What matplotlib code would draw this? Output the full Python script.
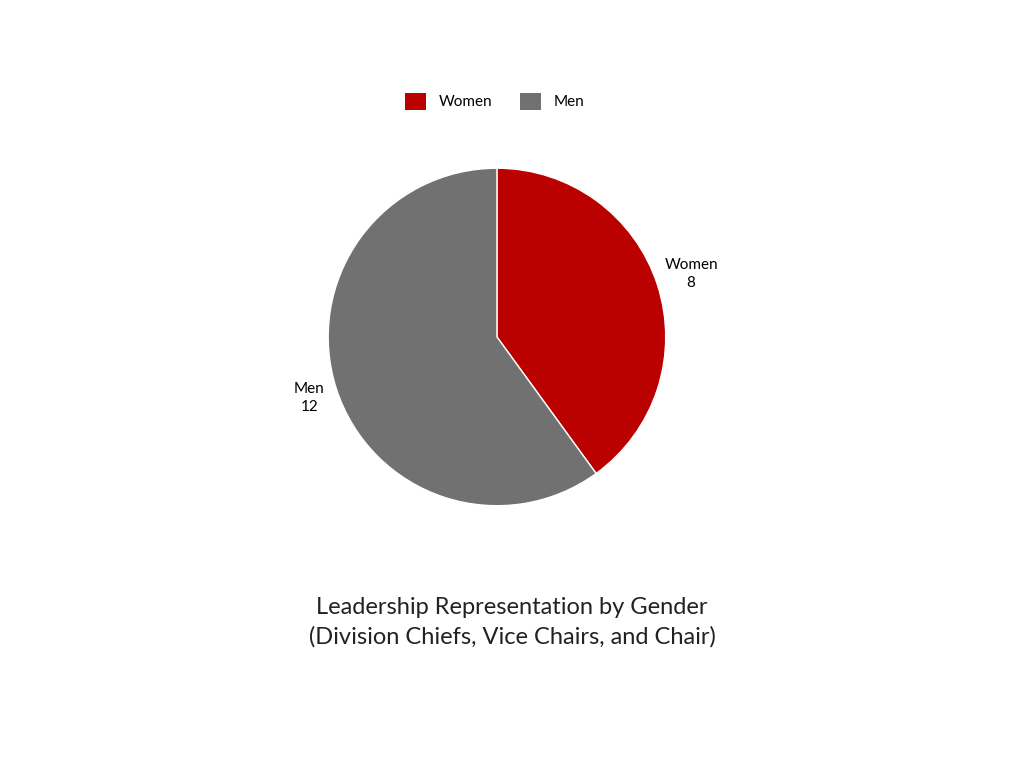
import matplotlib
matplotlib.use("Agg")
import matplotlib.pyplot as plt
import numpy as np
from matplotlib.patches import Patch

labels = ["Women", "Men"]
values = [8, 12]
colors = ["#BB0000", "#707170"]

plt.rcParams['font.family'] = ['Lato', 'DejaVu Sans']
fig = plt.figure(figsize=(10.24, 7.68), dpi=100)
ax = fig.add_axes([0.2793, 0.2865, 0.412, 0.5495])
wedges, _ = ax.pie(values, colors=colors, startangle=90, counterclock=False,
                   wedgeprops=dict(edgecolor="white", linewidth=1))
ax.set_aspect('equal')
total = sum(values)
start = 90
dists = [1.21, 1.17]
for lab, v, d in zip(labels, values, dists):
    ang = np.deg2rad(start - 360 * v / total / 2)
    ax.text(d * np.cos(ang), d * np.sin(ang), f"{lab}\n{v}", ha="center", va="center",
            fontsize=11, linespacing=1.3)
    start -= 360 * v / total

handles = [Patch(facecolor=c, label=l) for c, l in zip(colors, labels)]
fig.legend(handles=handles, loc="center", bbox_to_anchor=(0.483, 0.868), ncol=2,
           frameon=False, fontsize=11, handlelength=1.4, handleheight=1.4, columnspacing=1.8)
fig.text(0.5, 0.19, "Leadership Representation by Gender\n(Division Chiefs, Vice Chairs, and Chair)",
         ha="center", va="center", fontsize=17, linespacing=1.45, color="#222222")
fig.savefig("out.png", dpi=100)
